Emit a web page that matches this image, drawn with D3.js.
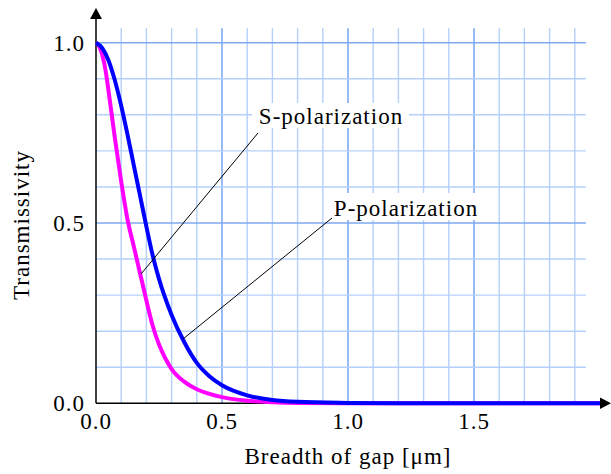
<!DOCTYPE html>
<html>
<head>
<meta charset="utf-8">
<script src="https://cdn.jsdelivr.net/npm/d3@7"></script>
<style>
  body { margin: 0; background: #fff; }
</style>
</head>
<body>
<svg id="chart" width="611" height="474"></svg>
<script>
// values
const sGap = [0, 0.0125, 0.025, 0.0375, 0.05, 0.075, 0.1, 0.125, 0.15, 0.175, 0.2, 0.225, 0.25, 0.275, 0.3, 0.35, 0.4, 0.45, 0.5, 0.6, 0.7, 0.8, 1.0, 2.0];
const sPol = [1.0, 0.99, 0.965, 0.925, 0.865, 0.735, 0.615, 0.51, 0.435, 0.36, 0.285, 0.215, 0.163, 0.125, 0.095, 0.06, 0.039, 0.026, 0.017, 0.007, 0.003, 0.001, 0, 0];
const pGap = [0, 0.025, 0.05, 0.075, 0.1, 0.125, 0.15, 0.175, 0.2, 0.225, 0.25, 0.3, 0.35, 0.4, 0.45, 0.5, 0.6, 0.7, 0.8, 1.0, 1.2, 2.0];
const pPol = [1.0, 0.985, 0.95, 0.895, 0.825, 0.745, 0.66, 0.575, 0.49, 0.41, 0.345, 0.245, 0.17, 0.112, 0.075, 0.05, 0.022, 0.009, 0.004, 0.001, 0, 0];
const xTicks = [0.0, 0.5, 1.0, 1.5];
const yTicks = [0.0, 0.5, 1.0];

const serif = "'Liberation Serif', 'Times New Roman', Times, serif";
const svg = d3.select("#chart");

const x = d3.scaleLinear().domain([0, 1.5]).range([96, 474]);
const y = d3.scaleLinear().domain([0, 1]).range([403.3, 42.7]);

// grid
const grid = svg.append("g");
const vLines = d3.range(1, 20).map((d) => d / 10);
const hLines = d3.range(1, 11).map((d) => d / 10);
const major = (d) => Math.round(d * 10) % 5 === 0;
grid.selectAll("line.v")
    .data(vLines)
    .enter()
    .append("line")
    .attr("x1", (d) => x(d))
    .attr("x2", (d) => x(d))
    .attr("y1", y(1.04))
    .attr("y2", y(0))
    .attr("stroke", (d) => (major(d) ? "#7fa9f0" : "#b5cffc"))
    .attr("stroke-width", (d) => (major(d) ? 1.6 : 1.4));
grid.selectAll("line.h")
    .data(hLines)
    .enter()
    .append("line")
    .attr("x1", x(0))
    .attr("x2", x(1.944))
    .attr("y1", (d) => y(d))
    .attr("y2", (d) => y(d))
    .attr("stroke", (d) => (major(d) ? "#7fa9f0" : "#b5cffc"))
    .attr("stroke-width", (d) => (major(d) ? 1.6 : 1.4));

// label boxes (white behind text)
svg.append("rect").attr("x", 252).attr("y", 103).attr("width", 157).attr("height", 25).attr("fill", "#fff");
svg.append("rect").attr("x", 328).attr("y", 193).attr("width", 154).attr("height", 27).attr("fill", "#fff");

// axes
svg.append("line")
    .attr("x1", x(0)).attr("x2", 604)
    .attr("y1", y(0)).attr("y2", y(0))
    .attr("stroke", "#000").attr("stroke-width", 1.5);
svg.append("line")
    .attr("x1", x(0)).attr("x2", x(0))
    .attr("y1", y(0)).attr("y2", 16)
    .attr("stroke", "#000").attr("stroke-width", 1.5);
svg.append("path").attr("d", "M96,8 L90,19 L102,19 Z").attr("fill", "#000");
svg.append("path").attr("d", "M611,403.3 L600,397.5 L600,409 Z").attr("fill", "#000");

// curves
const line = d3.line()
    .x((d) => x(d[0]))
    .y((d) => y(d[1]))
    .curve(d3.curveMonotoneX);

svg.append("path")
    .datum(sGap.map((d, i) => [d, sPol[i]]))
    .attr("d", line)
    .attr("fill", "none")
    .attr("stroke", "#ff00ff")
    .attr("stroke-width", 4);
svg.append("path")
    .datum(pGap.map((d, i) => [d, pPol[i]]))
    .attr("d", line)
    .attr("fill", "none")
    .attr("stroke", "#0000ff")
    .attr("stroke-width", 4);

// leader lines
svg.append("line").attr("x1", 258).attr("y1", 133).attr("x2", 141).attr("y2", 274).attr("stroke", "#000").attr("stroke-width", 1);
svg.append("line").attr("x1", 332).attr("y1", 218).attr("x2", 183).attr("y2", 339).attr("stroke", "#000").attr("stroke-width", 1);

// tick labels
svg.selectAll("text.xt")
    .data(xTicks)
    .enter()
    .append("text")
    .attr("x", (d) => x(d))
    .attr("y", 429)
    .attr("text-anchor", "middle")
    .attr("font-family", serif)
    .attr("font-size", 23)
    .attr("letter-spacing", 1)
    .text((d) => d.toFixed(1));
svg.selectAll("text.yt")
    .data(yTicks)
    .enter()
    .append("text")
    .attr("x", 85)
    .attr("y", (d) => y(d) + 8)
    .attr("text-anchor", "end")
    .attr("font-family", serif)
    .attr("font-size", 23)
    .attr("letter-spacing", 1)
    .text((d) => d.toFixed(1));

// labels
const label = (tx, ty, str) =>
    svg.append("text")
        .attr("x", tx).attr("y", ty)
        .attr("text-anchor", "middle")
        .attr("font-family", serif)
        .attr("font-size", 23)
        .attr("letter-spacing", 1)
        .text(str);
label(331, 124, "S-polarization");
label(406, 216, "P-polarization");
label(348, 464, "Breadth of gap [μm]");
label(0, 0, "Transmissivity").attr("transform", "translate(29,225) rotate(-90)");
</script>
</body>
</html>
